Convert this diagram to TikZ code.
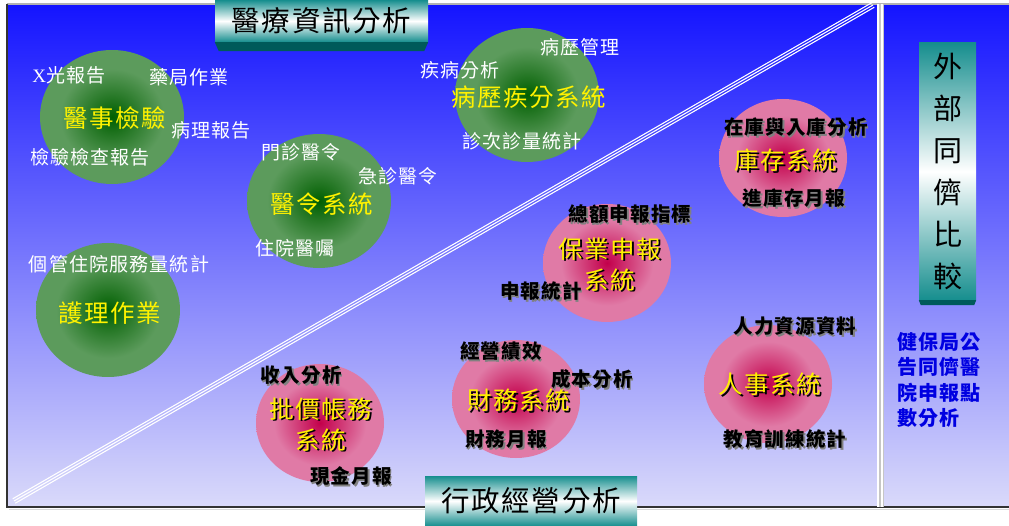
\documentclass[tikz,border=0pt]{standalone}
\usepackage{fontspec}
\newfontfamily\cjk[LetterSpace=6]{Noto Sans CJK TC}
\newfontfamily\serifx{Liberation Serif}
\usetikzlibrary{shapes.geometric,calc}
\definecolor{bgtop}{RGB}{20,20,255}
\definecolor{bgbot}{RGB}{218,218,250}
\definecolor{gc}{RGB}{0,95,0}
\definecolor{ge}{RGB}{92,155,92}
\definecolor{pc}{RGB}{195,0,75}
\definecolor{pe}{RGB}{224,122,166}
\definecolor{tealc}{RGB}{22,142,142}
\definecolor{bevelc}{RGB}{0,90,90}
\definecolor{bluetx}{RGB}{0,0,225}
\pgfdeclareradialshading{greenball}{\pgfpoint{0bp}{0bp}}{color(0bp)=(gc); color(18bp)=(ge); color(50bp)=(ge)}
\pgfdeclareradialshading{pinkball}{\pgfpoint{0bp}{0bp}}{color(0bp)=(pc); color(18bp)=(pe); color(50bp)=(pe)}
\newcommand\shtx[2]{\makebox[0pt][l]{\raisebox{-1.5pt}{\hspace{1.5pt}\color{#1}#2}}#2}
\tikzset{
  gball/.style={ellipse, shading=greenball, minimum width=144pt, minimum height=134pt, inner sep=0},
  pball/.style={ellipse, shading=pinkball, minimum width=128pt, minimum height=118pt, inner sep=0},
  wl/.style={text=white, font={\cjk\fontsize{19}{22}\selectfont}, inner sep=0},
  yl/.style={text=yellow, font={\cjk\fontsize{24.5}{31}\selectfont}, inner sep=0, align=center},
  bl/.style={text=black, font={\cjk\bfseries\fontsize{19.5}{22}\selectfont}, inner sep=0},
  titlebox/.style={rectangle, top color=tealc, bottom color=tealc, middle color=white, inner sep=0, font={\cjk\fontsize{28.5}{32}\selectfont}},
  bevel/.style={fill=bevelc},
  diag/.style={white, line width=1.1pt},
}
\begin{document}
\begin{tikzpicture}[x=1pt,y=-1pt]
\useasboundingbox (0,0) rectangle (1009,526);
\fill[white] (0,0) rectangle (1009,526);
% background frame
\shade[top color=bgtop, bottom color=bgbot] (7,4) rectangle (1010,507);
\draw[gray!60, line width=1.5pt] (7,4) -- (1010,4);
\draw[black!80, line width=1.5pt] (7,4) -- (7,507) -- (1010,507);
\draw[gray!30, line width=1.5pt] (9,509.5) -- (1010,509.5);
% vertical double line
\coordinate (vA) at (880,4);
\coordinate (vB) at (880,507);
\draw[gray!45, line width=7pt] (vA) -- (vB);
\draw[white, line width=2pt, transform canvas={xshift=-2.2pt}] (vA) -- (vB);
\draw[white, line width=2pt, transform canvas={xshift=2.2pt}] (vA) -- (vB);
% diagonal triple line
\coordinate (dA) at (14,501);
\coordinate (dB) at (873,5);
\draw[diag] (dA) -- (dB);
\draw[diag, transform canvas={shift={(1.3,2.2)}}] (dA) -- (dB);
\draw[diag, transform canvas={shift={(-1.3,-2.2)}}] (dA) -- (dB);
% green balls
\node[gball] (g1) at (112,117) {};
\node[gball] (g2) at (319,201) {};
\node[gball] (g3) at (108,310) {};
\node[gball] (g4) at (527,95) {};
% pink balls
\node[pball] (p1) at (783,158) {};
\node[pball] (p2) at (607,263) {};
\node[pball] (p3) at (516,399) {};
\node[pball] (p4) at (768,384) {};
\node[pball] (p5) at (320,423) {};
% title boxes
\node[titlebox, minimum width=213pt, minimum height=42pt] (t1) at (321.5,21) {醫療資訊分析};
\fill[bevel] (t1.south west) -- (t1.south east) -- ++(-4,9) -- ($(t1.south west)+(4,9)$) -- cycle;
\node[titlebox, minimum width=212pt, minimum height=50pt] (t2) at (531,501) {行政經營分析};
\node[titlebox, minimum width=57pt, minimum height=257pt, align=center, font={\cjk\fontsize{29}{42}\selectfont}] (t3) at (947.5,171.5) {外\\部\\同\\儕\\比\\較};
\fill[bevel] (t3.south west) -- (t3.south east) -- ++(-2,5) -- ($(t3.south west)+(2,5)$) -- cycle;
% white labels
\node[wl] (w1) at (69,75) {{\serifx X}光報告};
\node[wl] (w2) at (189,77) {藥局作業};
\node[wl] (w3) at (211,130) {病理報告};
\node[wl] (w4) at (90,157) {檢驗檢查報告};
\node[wl] (w5) at (301,152) {門診醫令};
\node[wl] (w6) at (398,176) {急診醫令};
\node[wl] (w7) at (295,248) {住院醫囑};
\node[wl] (w8) at (119,264) {個管住院服務量統計};
\node[wl] (w9) at (460,70) {疾病分析};
\node[wl] (w10) at (580,47) {病歷管理};
\node[wl] (w11) at (522,141) {診次診量統計};
% yellow labels in green
\node[yl] (y1) at (115,118) {醫事檢驗};
\node[yl] (y2) at (322,204) {醫令系統};
\node[yl] (y3) at (110,313) {護理作業};
\node[yl] (y4) at (529,97) {病歷疾分系統};
% yellow labels in pink
\node[yl] (y5) at (786,161) {\shtx{black}{庫存系統}};
\node[yl] (y6) at (610,265) {\shtx{black}{保業申報}\\\shtx{black}{系統}};
\node[yl] (y7) at (770,385) {\shtx{black}{人事系統}};
\node[yl] (y8) at (519,401) {\shtx{black}{財務系統}};
\node[yl] (y9) at (321,425) {\shtx{black}{批價帳務}\\\shtx{black}{系統}};
% black labels
\node[bl] (b1) at (796,128) {\shtx{gray}{在庫與入庫分析}};
\node[bl] (b2) at (794,199) {\shtx{gray}{進庫存月報}};
\node[bl] (b3) at (630,215) {\shtx{gray}{總額申報指標}};
\node[bl] (b4) at (541,292) {\shtx{gray}{申報統計}};
\node[bl] (b5) at (795,327) {\shtx{gray}{人力資源資料}};
\node[bl] (b6) at (785,440) {\shtx{gray}{教育訓練統計}};
\node[bl] (b7) at (501,352) {\shtx{gray}{經營績效}};
\node[bl] (b8) at (592,380) {\shtx{gray}{成本分析}};
\node[bl] (b9) at (506,440) {\shtx{gray}{財務月報}};
\node[bl] (b10) at (301,376) {\shtx{gray}{收入分析}};
\node[bl] (b11) at (351,477) {\shtx{gray}{現金月報}};
% blue text
\node[anchor=north west, inner sep=0, align=left, text=bluetx, font={\cjk\bfseries\fontsize{20}{25.5}\selectfont}] (bt) at (897,332) {健保局公\\告同儕醫\\院申報點\\數分析};
\end{tikzpicture}
\end{document}
